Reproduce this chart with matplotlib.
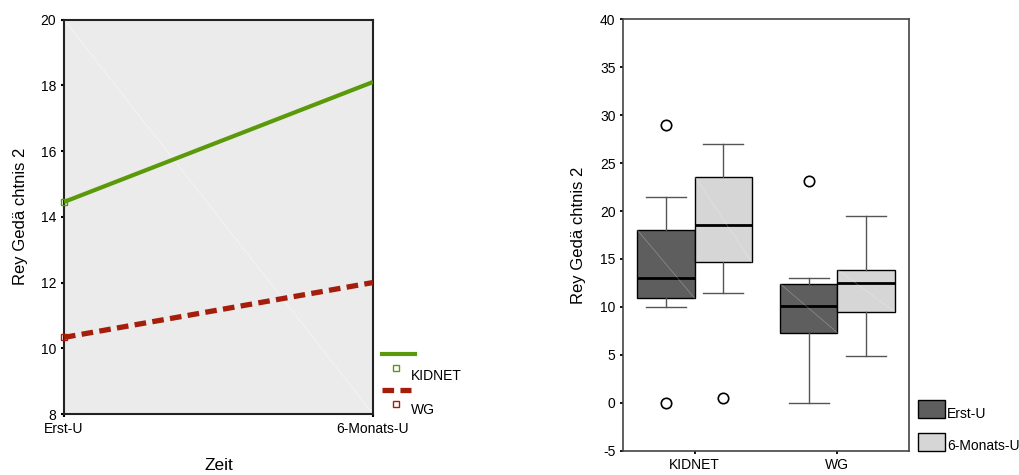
import matplotlib
matplotlib.use("Agg")
import matplotlib.pyplot as plt
from matplotlib.lines import Line2D
from matplotlib.patches import Rectangle

plt.rcParams['font.family'] = ['Liberation Sans', 'DejaVu Sans']
plt.rcParams['axes.unicode_minus'] = False

# ---- data: left line chart ----
zeit_labels = ["Erst-U", "6-Monats-U"]
kidnet_means = [14.45, 18.1]
wg_means = [10.33, 12.0]

# ---- data: right box plot ----
groups = ["KIDNET", "WG"]
times = ["Erst-U", "6-Monats-U"]
# per group, per time: whisker low, q1, median, q3, whisker high, outliers
kidnet_erst = dict(whislo=10.0, q1=10.9, med=13.0, q3=18.0, whishi=21.5, fliers=[29.0, 0.0])
kidnet_6m = dict(whislo=11.4, q1=14.65, med=18.5, q3=23.6, whishi=27.0, fliers=[0.5])
wg_erst = dict(whislo=0.0, q1=7.3, med=10.1, q3=12.4, whishi=13.0, fliers=[23.1])
wg_6m = dict(whislo=4.9, q1=9.5, med=12.5, q3=13.9, whishi=19.5, fliers=[])

GREEN = "#5a9a0a"
RED = "#a51d0b"
DARK = "#5e5e5e"
LIGHT = "#d6d6d6"

fig = plt.figure(figsize=(10.2, 4.75), dpi=100)

# ================= left chart =================
ax1 = fig.add_axes([0.0627, 0.1284, 0.303, 0.8305])
ax1.set_facecolor("#ebebeb")
x = list(range(len(zeit_labels)))
ax1.plot(x, kidnet_means, color=GREEN, lw=3.0, solid_capstyle='butt', zorder=3)
ax1.plot(x, wg_means, color=RED, lw=3.8, dashes=(2.2, 1.2), dash_capstyle='butt', zorder=3)
ax1.plot(x[:1], kidnet_means[:1], ls='none', marker='s', ms=5, mfc='none', mec=GREEN, mew=1.0, zorder=4, clip_on=False)
ax1.plot(x[:1], wg_means[:1], ls='none', marker='s', ms=5, mfc='none', mec=RED, mew=1.0, zorder=4, clip_on=False)
# faint diagonal
ax1.plot([0, 1], [1, 0], transform=ax1.transAxes, color="white", lw=0.6, alpha=0.5, zorder=1)
ax1.set_xlim(0, 1)
ax1.set_ylim(8, 20)
ax1.set_yticks(range(8, 21, 2))
ax1.set_xticks(x)
ax1.set_xticklabels(zeit_labels)
ax1.tick_params(axis='both', length=2.5, width=1.5, labelsize=10, pad=3)
for s in ax1.spines.values():
    s.set_linewidth(1.5)
    s.set_color("#222222")
ax1.set_xlabel("Zeit", fontsize=12.5, labelpad=16)
ax1.set_ylabel("Rey Gedä chtnis 2", fontsize=12, labelpad=9)

# legend (manual, outside)
tr = fig.transFigure
def fx(px): return px / 1020
def fy(py): return 1 - py / 475
fig.add_artist(Line2D([fx(382), fx(415)], [fy(354), fy(354)], transform=tr, color=GREEN, lw=3.0))
fig.add_artist(Line2D([fx(396)], [fy(368)], transform=tr, ls='none', marker='s', ms=5, mfc='none', mec=GREEN, mew=1.0))
fig.text(fx(411), fy(376), "KIDNET", fontsize=10, va='center', ha='left')
fig.add_artist(Line2D([fx(382), fx(411)], [fy(390), fy(390)], transform=tr, color=RED, lw=3.8, dashes=(2.2, 1.2)))
fig.add_artist(Line2D([fx(396)], [fy(404)], transform=tr, ls='none', marker='s', ms=5, mfc='none', mec=RED, mew=1.0))
fig.text(fx(411), fy(410), "WG", fontsize=10, va='center', ha='left')

# ================= right chart =================
ax2 = fig.add_axes([0.611, 0.0512, 0.280, 0.908])
stats_by_time = [[kidnet_erst, wg_erst], [kidnet_6m, wg_6m]]
colors = [DARK, LIGHT]
offsets = [-0.2, 0.2]
for ti, (stats, col, off) in enumerate(zip(stats_by_time, colors, offsets)):
    pos = [gi + off for gi in range(len(groups))]
    ax2.bxp(stats, positions=pos, widths=0.4, patch_artist=True, showfliers=True,
            boxprops=dict(facecolor=col, edgecolor="black", linewidth=1.0),
            medianprops=dict(color="black", linewidth=2.0),
            whiskerprops=dict(color="#555555", linewidth=1.0),
            capprops=dict(color="#555555", linewidth=1.0),
            capwidths=0.28,
            flierprops=dict(marker='o', markersize=7.5, markerfacecolor='white',
                            markeredgecolor='black', markeredgewidth=1.2),
            manage_ticks=False)
    # faint diagonals within boxes
    for p, s in zip(pos, stats):
        ax2.plot([p - 0.2, p + 0.2], [s['q3'], s['q1']], color="white", lw=0.5, alpha=0.3, zorder=3)

ax2.set_xlim(-0.5, 1.5)
ax2.set_ylim(-5, 40)
ax2.set_yticks(range(-5, 41, 5))
ax2.set_xticks(range(len(groups)))
ax2.set_xticklabels(groups)
ax2.tick_params(axis='both', length=2.5, width=1.3, labelsize=10, pad=3)
for s in ax2.spines.values():
    s.set_linewidth(1.2)
    s.set_color("#444444")
ax2.set_ylabel("Rey Gedä chtnis 2", fontsize=12, labelpad=10)

# legend (manual)
fig.add_artist(Rectangle((fx(918), fy(418)), fx(945) - fx(918), fy(400) - fy(418), transform=tr,
                         facecolor=DARK, edgecolor="black", lw=1.0))
fig.text(fx(947), fy(414), "Erst-U", fontsize=10, va='center', ha='left')
fig.add_artist(Rectangle((fx(918), fy(451)), fx(945) - fx(918), fy(433) - fy(451), transform=tr,
                         facecolor=LIGHT, edgecolor="black", lw=1.0))
fig.text(fx(947), fy(446), "6-Monats-U", fontsize=10, va='center', ha='left')

fig.savefig("out.png", dpi=100)
